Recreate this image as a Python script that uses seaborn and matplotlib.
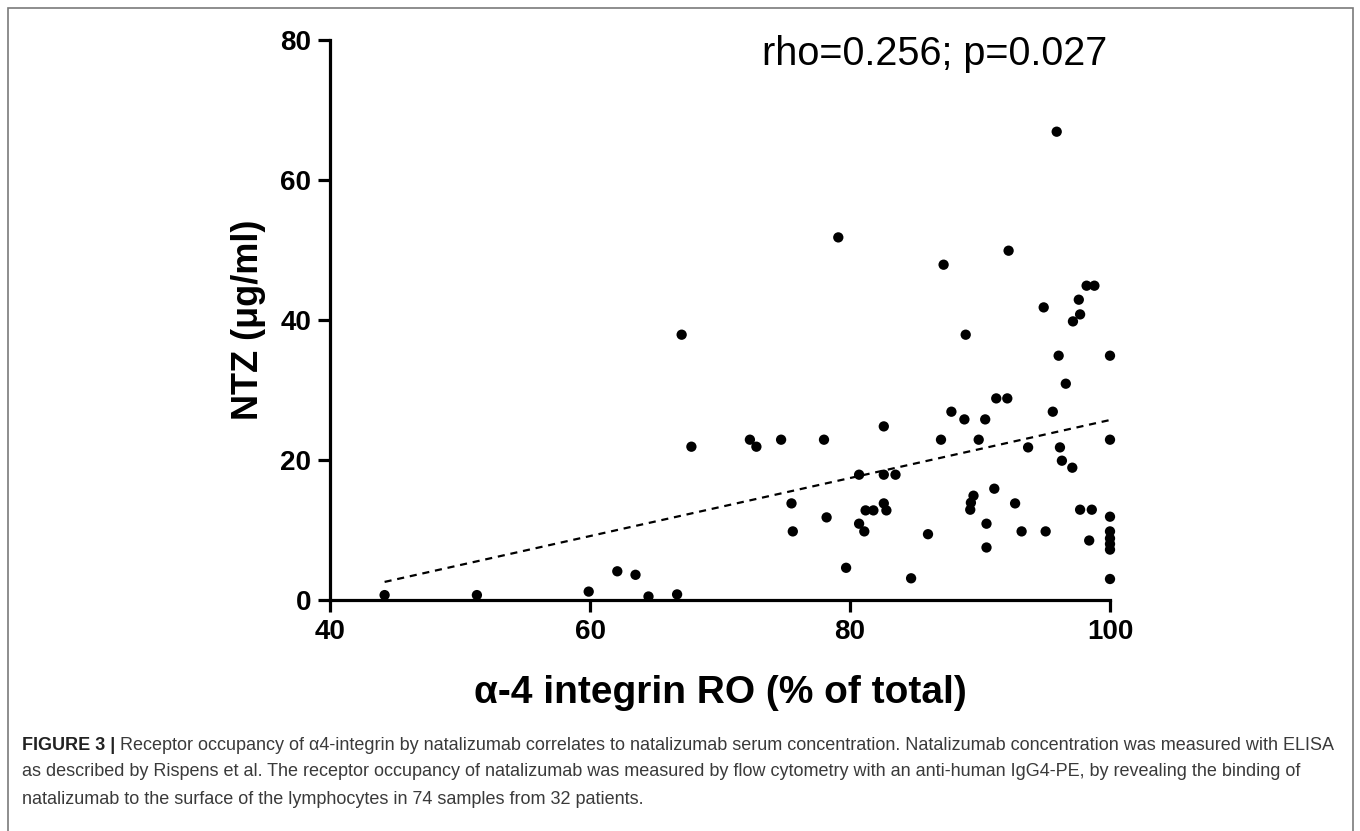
import numpy as np
import pandas as pd
import matplotlib
matplotlib.use("Agg")
import matplotlib.pyplot as plt
import seaborn as sns
from matplotlib.patches import Rectangle

# ---- data ----
ro_pct = [44.2, 51.3, 59.9, 62.1, 63.5, 64.5, 66.7, 67.05, 67.8, 72.3,
          72.8, 74.7, 78.0, 75.5, 75.6, 78.2, 79.7, 80.7, 82.6, 82.6,
          83.5, 81.2, 81.8, 82.6, 82.8, 80.7, 81.1, 86.0, 84.7, 87.8,
          87.0, 79.1, 95.9, 92.2, 87.2, 88.9, 94.9, 98.2, 98.8, 97.6,
          97.7, 97.15, 96.05, 100.0, 96.6, 91.25, 92.1, 95.6, 88.8, 90.4,
          89.9, 100.0, 93.7, 96.15, 96.3, 97.1, 91.1, 89.5, 89.3, 89.25,
          92.7, 97.7, 98.6, 100.0, 90.5, 90.5, 93.2, 95.05, 98.4, 100.0,
          100.0, 100.0, 100.0, 100.0]
ntz_ugml = [0.7, 0.7, 1.2, 4.1, 3.6, 0.5, 0.8, 37.9, 21.9, 22.9,
            21.9, 22.9, 22.9, 13.8, 9.8, 11.8, 4.6, 17.9, 24.8, 17.9,
            17.9, 12.8, 12.8, 13.8, 12.8, 10.9, 9.8, 9.4, 3.1, 26.9,
            22.9, 51.8, 66.9, 49.9, 47.9, 37.9, 41.8, 44.9, 44.9, 42.9,
            40.8, 39.8, 34.9, 34.9, 30.9, 28.8, 28.8, 26.9, 25.8, 25.8,
            22.9, 22.9, 21.8, 21.8, 19.9, 18.9, 15.9, 14.9, 13.9, 12.9,
            13.8, 12.9, 12.9, 11.9, 10.9, 7.5, 9.8, 9.8, 8.5, 9.8,
            8.8, 8.0, 7.2, 3.0]

x_ticks = [40, 60, 80, 100]
y_ticks = [0, 20, 40, 60, 80]
x_label = "\u03b1-4 integrin RO (% of total)"
y_label = "NTZ (\u03bcg/ml)"
stat_text = "rho=0.256; p=0.027"
caption_bold = "FIGURE 3 |"
caption_lines = [
    " Receptor occupancy of \u03b14-integrin by natalizumab correlates to natalizumab serum concentration. Natalizumab concentration was measured with ELISA",
    "as described by Rispens et al. The receptor occupancy of natalizumab was measured by flow cytometry with an anti-human IgG4-PE, by revealing the binding of",
    "natalizumab to the surface of the lymphocytes in 74 samples from 32 patients.",
]

# ---- style ----
sns.set_theme(style="ticks")
plt.rcParams['font.family'] = ['Liberation Sans', 'DejaVu Sans']

W, H = 1360, 831
fig = plt.figure(figsize=(W / 100, H / 100), dpi=100)
fig.patch.set_facecolor("white")

ax = fig.add_axes([330 / W, 1 - 600 / H, 780 / W, 560 / H])
df = pd.DataFrame({"ro": ro_pct, "ntz": ntz_ugml})

sns.regplot(data=df, x="ro", y="ntz", scatter=False, ci=None, ax=ax,
            line_kws=dict(color="black", lw=1.6, ls=(0, (3.2, 2.6))))
sns.scatterplot(data=df, x="ro", y="ntz", ax=ax, color="black", s=55,
                edgecolor="none", clip_on=False, zorder=3, legend=False)

ax.set_xlim(40, 100)
ax.set_ylim(0, 80)
ax.set_xticks(x_ticks)
ax.set_yticks(y_ticks)
ax.set_xticklabels([str(t) for t in x_ticks], fontsize=20, fontweight="bold")
ax.set_yticklabels([str(t) for t in y_ticks], fontsize=20, fontweight="bold")
sns.despine(ax=ax)
for s in ["left", "bottom"]:
    ax.spines[s].set_linewidth(2.3)
    ax.spines[s].set_color("black")
ax.tick_params(axis="both", length=8.6, width=2.3, colors="black", pad=5)

ax.set_xlabel(x_label, fontsize=28, fontweight="bold", labelpad=22, color="black")
ax.set_ylabel(y_label, fontsize=26, fontweight="bold", labelpad=10, color="black")

ax.text((1107 - 330) / 780, 0.975, stat_text, transform=ax.transAxes, ha="right",
        va="center", fontsize=28.5, color="black")

# ---- caption ----
cap_color = "#3a3a3a"
fs_cap = 13.0
x0 = 22 / W
y_lines = [1 - 745 / H, 1 - 772 / H, 1 - 799 / H]
tb = fig.text(x0, y_lines[0], caption_bold, fontsize=fs_cap, fontweight="bold",
              color="#222222", va="center", ha="left")
renderer = fig.canvas.get_renderer()
bb = tb.get_window_extent(renderer=renderer)
fig.text(bb.x1 / W, y_lines[0], caption_lines[0], fontsize=fs_cap, color=cap_color,
         va="center", ha="left")
fig.text(x0, y_lines[1], caption_lines[1], fontsize=fs_cap, color=cap_color,
         va="center", ha="left")
fig.text(x0, y_lines[2], caption_lines[2], fontsize=fs_cap, color=cap_color,
         va="center", ha="left")

# ---- outer frame ----
fig.patches.append(Rectangle((8 / W, -0.05), (1353 - 8) / W, 1.05 - 8 / H,
                             transform=fig.transFigure, fill=False,
                             edgecolor="#7a7a7a", lw=1.2))

fig.savefig("out.png", dpi=100)
